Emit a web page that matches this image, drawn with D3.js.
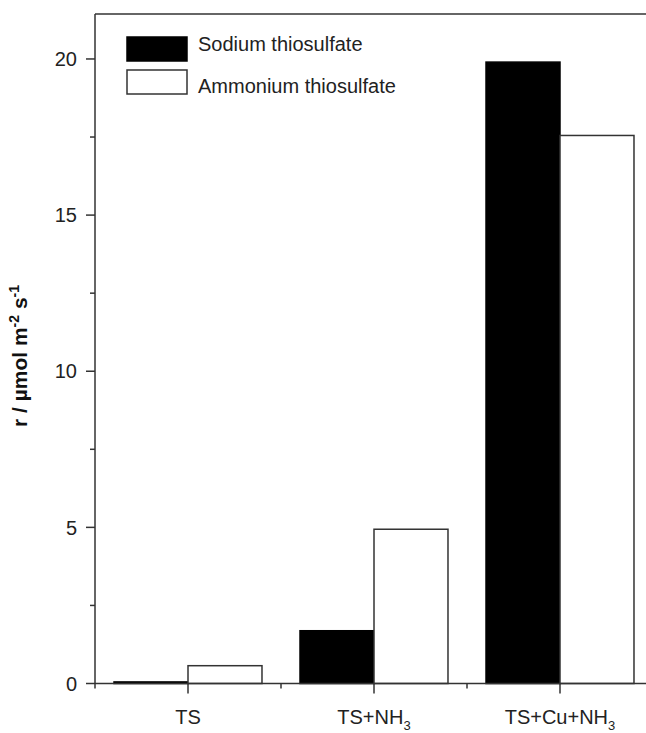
<!DOCTYPE html>
<html>
<head>
<meta charset="utf-8">
<script src="https://cdn.jsdelivr.net/npm/d3@7"></script>
<style>
  body { margin: 0; background: #fff; }
  svg { display: block; font-family: "Liberation Sans", Arial, sans-serif; }
</style>
</head>
<body>
<div id="chart"></div>
<script>
var categories = ["TS", "TS+NH", "TS+Cu+NH"]
var subscripts = ["", "3", "3"]
var series = ["Sodium thiosulfate", "Ammonium thiosulfate"]
var sodium = [0.05, 1.69, 19.9]
var ammonium = [0.57, 4.94, 17.55]
var majorTicks = [0, 5, 10, 15, 20]
var minorTicks = [2.5, 7.5, 12.5, 17.5]

function drawChart() {
    var width = 646
    var height = 733

    var svg = d3.select("#chart")
        .append("svg")
        .attr("width", width)
        .attr("height", height)

    var x = d3.scaleBand()
        .domain(categories)
        .range([95, 653])
        .padding(0)

    var x1 = d3.scaleBand()
        .domain(series)
        .range([0, x.bandwidth()])
        .paddingInner(0)
        .paddingOuter(0.257)

    var y = d3.scaleLinear()
        .domain([0, 21.44])
        .range([683.5, 14])

    var rows = categories.map((c, i) => ({cat: c, values: [sodium[i], ammonium[i]]}))

    var groups = svg.append("g")
        .selectAll("g")
        .data(rows)
        .join("g")
        .attr("transform", d => "translate(" + x(d.cat) + ",0)")

    groups.selectAll("rect")
        .data(d => d.values.map((v, j) => ({s: series[j], v: v})))
        .join("rect")
        .attr("x", d => x1(d.s))
        .attr("width", x1.bandwidth())
        .attr("y", d => y(d.v))
        .attr("height", d => y(0) - y(d.v))
        .attr("fill", d => d.s == series[0] ? "#000" : "#fff")
        .attr("stroke", d => d.s == series[0] ? "#000" : "#333")
        .attr("stroke-width", 1.5)

    // frame: left axis, top line, bottom axis
    var axisColor = "#333"
    svg.append("line")
        .attr("x1", 95).attr("x2", 95)
        .attr("y1", y.range()[1]).attr("y2", y(0))
        .attr("stroke", axisColor).attr("stroke-width", 1.5)
    svg.append("line")
        .attr("x1", 95).attr("x2", 653)
        .attr("y1", y.range()[1]).attr("y2", y.range()[1])
        .attr("stroke", axisColor).attr("stroke-width", 1.5)
    svg.append("line")
        .attr("x1", 95).attr("x2", 653)
        .attr("y1", y(0)).attr("y2", y(0))
        .attr("stroke", axisColor).attr("stroke-width", 1.5)

    // y ticks
    svg.append("g").selectAll("line")
        .data(majorTicks)
        .join("line")
        .attr("x1", 86).attr("x2", 95)
        .attr("y1", d => y(d)).attr("y2", d => y(d))
        .attr("stroke", axisColor).attr("stroke-width", 1.5)
    svg.append("g").selectAll("line")
        .data(minorTicks)
        .join("line")
        .attr("x1", 90).attr("x2", 95)
        .attr("y1", d => y(d)).attr("y2", d => y(d))
        .attr("stroke", axisColor).attr("stroke-width", 1.5)
    svg.append("g").selectAll("text")
        .data(majorTicks)
        .join("text")
        .attr("x", 77)
        .attr("y", d => y(d))
        .attr("dy", "0.36em")
        .attr("text-anchor", "end")
        .attr("font-size", 20)
        .attr("fill", "#222")
        .text(d => d)

    // x ticks
    svg.append("g").selectAll("line")
        .data(categories)
        .join("line")
        .attr("x1", d => x(d) + x.bandwidth() / 2).attr("x2", d => x(d) + x.bandwidth() / 2)
        .attr("y1", y(0)).attr("y2", y(0) + 10)
        .attr("stroke", axisColor).attr("stroke-width", 1.5)
    svg.append("g").selectAll("line")
        .data(categories.concat(["end"]))
        .join("line")
        .attr("x1", (d, i) => i < categories.length ? x(d) : x.range()[1])
        .attr("x2", (d, i) => i < categories.length ? x(d) : x.range()[1])
        .attr("y1", y(0)).attr("y2", y(0) + 5)
        .attr("stroke", axisColor).attr("stroke-width", 1.5)

    var xl = svg.append("g").selectAll("text")
        .data(categories)
        .join("text")
        .attr("x", d => x(d) + x.bandwidth() / 2)
        .attr("y", 724)
        .attr("text-anchor", "middle")
        .attr("font-size", 20)
        .attr("fill", "#222")
    xl.append("tspan").text(d => d)
    xl.append("tspan")
        .attr("font-size", 13)
        .attr("dy", 6)
        .text((d, i) => subscripts[i])

    // y title
    var title = svg.append("text")
        .attr("transform", "translate(27,356) rotate(-90)")
        .attr("text-anchor", "middle")
        .attr("font-size", 21)
        .attr("font-weight", "bold")
        .attr("fill", "#111")
    title.append("tspan").text("r / µmol m")
    title.append("tspan").attr("font-size", 14).attr("dy", -8).text("-2")
    title.append("tspan").attr("dy", 8).text(" s")
    title.append("tspan").attr("font-size", 14).attr("dy", -8).text("-1")

    // legend
    var legend = svg.append("g")
        .selectAll("g")
        .data(series)
        .join("g")
        .attr("transform", (d, i) => "translate(127," + (37 + i * 33) + ")")
    legend.append("rect")
        .attr("width", 60)
        .attr("height", 24)
        .attr("fill", (d, i) => i == 0 ? "#000" : "#fff")
        .attr("stroke", (d, i) => i == 0 ? "#000" : "#333")
        .attr("stroke-width", 1.5)
    legend.append("text")
        .attr("x", 71)
        .attr("y", (d, i) => i == 0 ? 7 : 16)
        .attr("dy", "0.35em")
        .attr("font-size", 20)
        .attr("fill", "#222")
        .text(d => d)
}
drawChart()
</script>
</body>
</html>
